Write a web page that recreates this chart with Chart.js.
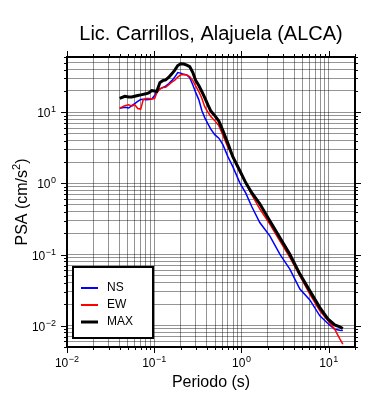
<!DOCTYPE html>
<html>
<head>
<meta charset="utf-8">
<script src="https://cdn.jsdelivr.net/npm/chart.js@4.4.1/dist/chart.umd.min.js"></script>
<style>
  html, body { margin: 0; padding: 0; background: #fff; }
  #wrap { width: 390px; height: 400px; position: relative; }
</style>
</head>
<body>
<div id="wrap"><canvas id="psaChart"></canvas></div>
<script>
// ===== Data =====
const chartTitle = 'Lic. Carrillos, Alajuela (ALCA)';
const xTitle = 'Periodo (s)';

// periods (s)
const periods = [0.0402, 0.0459, 0.0510, 0.0552, 0.0598, 0.0647, 0.0700, 0.0748, 0.0799, 0.0865,
  0.0936, 0.101, 0.107, 0.116, 0.125, 0.135, 0.147, 0.159, 0.172, 0.186,
  0.201, 0.218, 0.236, 0.255, 0.277, 0.299, 0.324, 0.351, 0.379, 0.411,
  0.445, 0.494, 0.550, 0.612, 0.698, 0.795, 0.957, 1.12, 1.31, 1.62,
  2.11, 2.75, 3.58, 4.67, 6.07, 7.91, 9.77, 11.7, 13.4, 14.5];

const ns = [11.4, 11.8, 11.5, 12.4, 13.3, 14.2, 15.2, 15.3, 15.0, 15.1,
  15.4, 17.2, 20.2, 21.4, 22.3, 23.4, 25.4, 27.9, 31.3, 36.2,
  35.6, 34.2, 33.6, 30.8, 24.2, 18.9, 15.1, 10.6, 8.42, 6.93,
  5.80, 4.85, 4.33, 3.51, 2.38, 1.72, 1.02, 0.728, 0.474, 0.282,
  0.183, 0.101, 0.0623, 0.0326, 0.0230, 0.0137, 0.0107, 0.0089, 0.0086, 0.0085];

const ew = [11.4, 12.4, 12.8, 12.2, 12.8, 11.3, 11.1, 15.1, 15.6, 15.7,
  15.4, 15.6, 18.9, 21.2, 22.3, 22.5, 24.5, 26.5, 28.4, 31.3,
  33.7, 34.0, 33.4, 31.8, 27.9, 23.4, 19.6, 15.8, 12.0, 10.1,
  8.70, 7.64, 6.50, 4.77, 3.24, 2.38, 1.43, 1.02, 0.693, 0.440,
  0.268, 0.156, 0.0908, 0.0501, 0.0277, 0.0161, 0.0118, 0.0089, 0.0065, 0.0055];

const maxv = [15.7, 16.8, 16.4, 16.4, 16.8, 17.2, 17.6, 17.9, 18.2, 18.8,
  20.2, 19.9, 19.6, 26.2, 27.9, 28.6, 31.1, 34.8, 39.3, 45.5,
  48.1, 47.7, 46.2, 44.0, 36.2, 27.9, 23.8, 19.6, 16.1, 12.8,
  10.4, 9.0, 7.52, 5.52, 3.68, 2.38, 1.51, 1.02, 0.740, 0.518,
  0.298, 0.173, 0.101, 0.0530, 0.0308, 0.0179, 0.0124, 0.0102, 0.0096, 0.0091];

// axis ticks
const xDecades = [0.01, 0.1, 1, 10];
const yDecades = [0.001, 0.01, 0.1, 1, 10];
const minorSteps = [1, 2, 3, 4, 5, 6, 7, 8, 9];
const xLabelExps = [-2, -1, 0, 1];
const yLabelExps = [-2, -1, 0, 1];
const xRange = [0.01, 20];
const yRange = [0.005, 60];

const seriesNames = ['NS', 'EW', 'MAX'];
const seriesColors = ['#0000ff', '#ff0000', '#000000'];

// ===== Helpers =====
function allTicks(decades, range) {
    const out = [];
    decades.forEach(d => {
        minorSteps.forEach(m => {
            const v = +(d * m).toPrecision(6);
            if (v >= range[0] * 0.9999 && v <= range[1] * 1.0001) out.push(v);
        });
    });
    return out;
}
const xTickVals = allTicks(xDecades, xRange);
const yTickVals = allTicks(yDecades, yRange);

function isDecade(v) {
    const l = Math.log10(v);
    return Math.abs(l - Math.round(l)) < 1e-6;
}

function pairs(ys) {
    return ys.map((v, i) => ({ x: periods[i], y: v }));
}

// draws "10" with a superscript exponent
function drawPow(ctx, exp, x, y, align) {
    const base = '10';
    const sup = exp < 0 ? '\u2212' + Math.abs(exp) : String(exp);
    ctx.font = '12px "Liberation Sans", Arial, sans-serif';
    const wb = ctx.measureText(base).width;
    ctx.font = '9px "Liberation Sans", Arial, sans-serif';
    const ws = ctx.measureText(sup).width;
    const total = wb + ws + 0.5;
    let start = x;
    if (align === 'center') start = x - total / 2;
    if (align === 'right') start = x - total;
    ctx.textAlign = 'left';
    ctx.textBaseline = 'alphabetic';
    ctx.font = '12px "Liberation Sans", Arial, sans-serif';
    ctx.fillText(base, start, y);
    ctx.font = '9px "Liberation Sans", Arial, sans-serif';
    ctx.fillText(sup, start + wb + 0.5, y - 5);
}

// ===== Frame, ticks, labels, legend =====
const framePlugin = {
    id: 'framePlugin',
    afterDraw(chart) {
        const { ctx, chartArea: a, scales: { x, y } } = chart;
        ctx.save();
        ctx.strokeStyle = '#000';
        ctx.fillStyle = '#000';
        ctx.lineWidth = 1;

        ctx.beginPath();
        xTickVals.forEach(v => {
            const px = Math.round(x.getPixelForValue(v)) + 0.5;
            const len = isDecade(v) ? 6 : 3;
            ctx.moveTo(px, a.bottom); ctx.lineTo(px, a.bottom + len);
            ctx.moveTo(px, a.top); ctx.lineTo(px, a.top - len);
        });
        yTickVals.forEach(v => {
            const py = Math.round(y.getPixelForValue(v)) + 0.5;
            const len = isDecade(v) ? 6 : 3;
            ctx.moveTo(a.left, py); ctx.lineTo(a.left - len, py);
            ctx.moveTo(a.right, py); ctx.lineTo(a.right + len, py);
        });
        ctx.stroke();

        // frame
        ctx.lineWidth = 2;
        ctx.strokeRect(a.left, a.top, a.right - a.left, a.bottom - a.top);

        // tick labels
        xLabelExps.forEach(e => {
            drawPow(ctx, e, x.getPixelForValue(Math.pow(10, e)), a.bottom + 20, 'center');
        });
        yLabelExps.forEach(e => {
            drawPow(ctx, e, a.left - 11, y.getPixelForValue(Math.pow(10, e)) + 5, 'right');
        });

        // title
        ctx.textAlign = 'center';
        ctx.textBaseline = 'alphabetic';
        ctx.font = '20px "Liberation Sans", Arial, sans-serif';
        ctx.fillText(chartTitle, (a.left + a.right) / 2, 40);

        // x title
        ctx.font = '16px "Liberation Sans", Arial, sans-serif';
        ctx.fillText(xTitle, (a.left + a.right) / 2, 387);

        // y title with superscript
        ctx.save();
        ctx.translate(27, (a.top + a.bottom) / 2);
        ctx.rotate(-Math.PI / 2);
        const p1 = 'PSA (cm/s', p2 = '2', p3 = ')';
        ctx.font = '16px "Liberation Sans", Arial, sans-serif';
        const w1 = ctx.measureText(p1).width, w3 = ctx.measureText(p3).width;
        ctx.font = '11px "Liberation Sans", Arial, sans-serif';
        const w2 = ctx.measureText(p2).width;
        let sx = -(w1 + w2 + w3) / 2;
        ctx.textAlign = 'left';
        ctx.font = '16px "Liberation Sans", Arial, sans-serif';
        ctx.fillText(p1, sx, 0);
        ctx.font = '11px "Liberation Sans", Arial, sans-serif';
        ctx.fillText(p2, sx + w1, -7);
        ctx.font = '16px "Liberation Sans", Arial, sans-serif';
        ctx.fillText(p3, sx + w1 + w2, 0);
        ctx.restore();

        // legend box
        ctx.fillStyle = '#fff';
        ctx.fillRect(73, 267, 80, 71);
        ctx.lineWidth = 2;
        ctx.strokeStyle = '#000';
        ctx.strokeRect(73, 267, 80, 71);
        const rows = [288, 305, 322];
        chart.data.datasets.forEach((ds, i) => {
            ctx.strokeStyle = ds.borderColor;
            ctx.lineWidth = i === 2 ? 3 : 2;
            ctx.beginPath();
            ctx.moveTo(81, rows[i]);
            ctx.lineTo(98, rows[i]);
            ctx.stroke();
            ctx.fillStyle = '#000';
            ctx.font = '12px "Liberation Sans", Arial, sans-serif';
            ctx.textAlign = 'left';
            ctx.textBaseline = 'middle';
            ctx.fillText(ds.label, 107, rows[i]);
        });
        ctx.restore();
    }
};

document.addEventListener("DOMContentLoaded", function() {
    const ctx = document.getElementById('psaChart');
    const seriesData = [ns, ew, maxv];

    new Chart(ctx, {
        type: 'line',
        data: {
            datasets: seriesData.map((vals, i) => ({
                label: seriesNames[i],
                data: pairs(vals),
                borderColor: seriesColors[i],
                borderWidth: i === 2 ? 3 : 1.5,
                pointRadius: 0,
                tension: 0,
                fill: false,
                order: 2 - i
            }))
        },
        options: {
            responsive: true,
            maintainAspectRatio: false,
            animation: false,
            layout: { padding: { left: 67, right: 35, top: 57, bottom: 53 } },
            plugins: {
                legend: { display: false },
                tooltip: { enabled: false }
            },
            scales: {
                x: {
                    type: 'logarithmic',
                    min: xRange[0],
                    max: xRange[1],
                    afterBuildTicks: s => { s.ticks = xTickVals.map(v => ({ value: v })); },
                    afterFit: s => { s.height = 0; },
                    ticks: { display: false },
                    border: { display: false },
                    grid: { color: 'rgba(0,0,0,0.42)', lineWidth: 1, drawTicks: false }
                },
                y: {
                    type: 'logarithmic',
                    min: yRange[0],
                    max: yRange[1],
                    afterBuildTicks: s => { s.ticks = yTickVals.map(v => ({ value: v })); },
                    afterFit: s => { s.width = 0; },
                    ticks: { display: false },
                    border: { display: false },
                    grid: { color: 'rgba(0,0,0,0.42)', lineWidth: 1, drawTicks: false }
                }
            }
        },
        plugins: [framePlugin]
    });
});
</script>
</body>
</html>
